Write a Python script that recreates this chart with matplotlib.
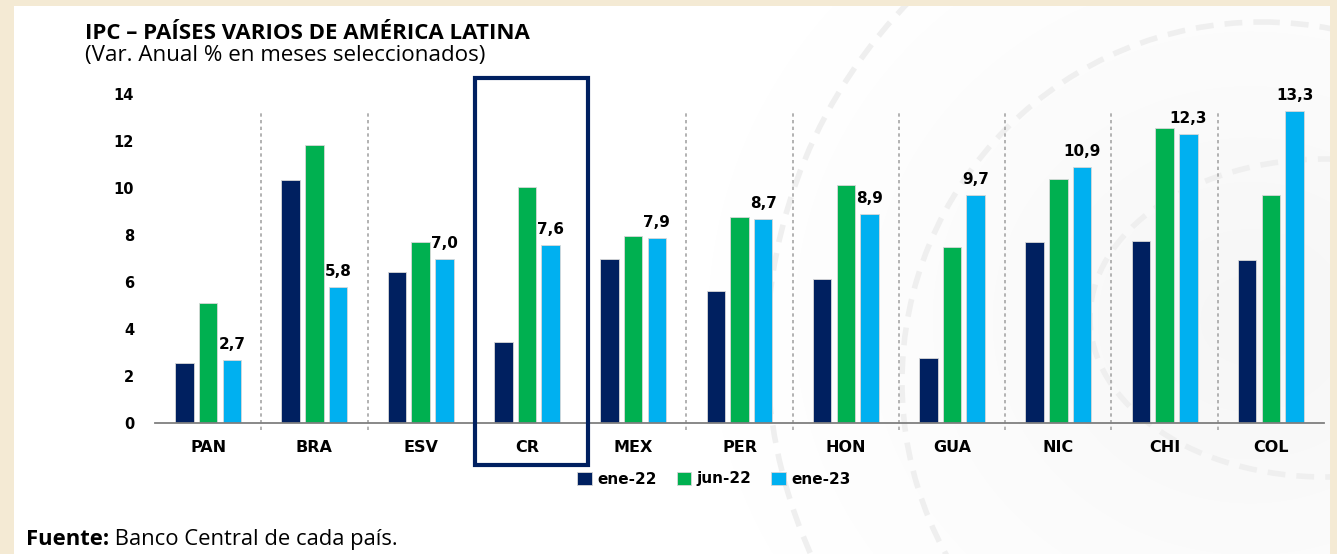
import matplotlib
matplotlib.use('Agg')
import matplotlib.pyplot as plt
import numpy as np
from matplotlib.patches import Rectangle, Circle, Ellipse

# ---------------- data ----------------
categories = ['PAN', 'BRA', 'ESV', 'CR', 'MEX', 'PER', 'HON', 'GUA', 'NIC', 'CHI', 'COL']
ene22 = [2.55, 10.35, 6.45, 3.45, 7.0, 5.65, 6.15, 2.8, 7.7, 7.75, 6.95]
jun22 = [5.1, 11.85, 7.7, 10.05, 7.95, 8.8, 10.15, 7.5, 10.4, 12.55, 9.7]
ene23 = [2.7, 5.8, 7.0, 7.6, 7.9, 8.7, 8.9, 9.7, 10.9, 12.3, 13.3]
series_labels = ['ene-22', 'jun-22', 'ene-23']
yticks = [0, 2, 4, 6, 8, 10, 12, 14]
highlight = 'CR'
title = 'IPC – PAÍSES VARIOS DE AMÉRICA LATINA'
subtitle = '(Var. Anual % en meses seleccionados)'
source_bold = 'Fuente:'
source_rest = ' Banco Central de cada país.'

colors = ['#002060', '#00B050', '#00B0F0']

W, H = 1337, 554
fig = plt.figure(figsize=(W / 100, H / 100), dpi=100)
fig.patch.set_facecolor('#F4EAD4')

# ---------------- background panel & decoration ----------------
bg = fig.add_axes([0, 0, 1, 1], zorder=0)
bg.set_xlim(0, W)
bg.set_ylim(H, 0)
bg.axis('off')
panel = Rectangle((14, 6), 1316, 548, facecolor='white', edgecolor='none')
bg.add_patch(panel)

yy, xx = np.mgrid[0:H, 0:W]
r = np.hypot(xx - 1250, (yy - 320) * 1.1)
shade = np.clip(1 - r / 560, 0, 1) ** 1.3
img = np.zeros((H, W, 4))
img[..., :3] = 0.90
img[..., 3] = shade * 0.35
im = bg.imshow(img, extent=(0, W, H, 0), interpolation='bilinear', zorder=1)
im.set_clip_path(panel)

dash = (0, (3.2, 2.0))
arc_kw = dict(fill=False, edgecolor='#EFEFEF', linewidth=4, linestyle=dash, zorder=2)
for patch in [Circle((1265, 350), 498, **arc_kw),
              Circle((1262, 382), 360, **arc_kw),
              Ellipse((1325, 318), 470, 318, **arc_kw)]:
    bg.add_patch(patch)
    patch.set_clip_path(panel)

# ---------------- main axes ----------------
ax = fig.add_axes([155 / W, (H - 423.3) / H, 1169 / W, 329 / H], zorder=2)
ax.patch.set_alpha(0)
x = np.arange(len(categories))
offsets = [-0.223, 0.0, 0.223]
bw = 0.174
containers = []
for vals, off, c, lab in zip([ene22, jun22, ene23], offsets, colors, series_labels):
    bc = ax.bar(x + off, vals, width=bw, color=c, edgecolor='#d8d8d8',
                linewidth=0.6, label=lab, zorder=3)
    containers.append(bc)

ax.set_xlim(-0.5, len(categories) - 0.5)
ax.set_ylim(0, 14)
for s in ['left', 'right', 'top']:
    ax.spines[s].set_visible(False)
ax.spines['bottom'].set_color('#7F7F7F')
ax.spines['bottom'].set_linewidth(1.3)
ax.spines['bottom'].set_zorder(4)

ax.set_yticks(yticks)
ax.set_yticklabels([str(v) for v in yticks], fontsize=10.5, fontweight='bold',
                   family='DejaVu Sans')
ax.set_xticks(x)
ax.set_xticklabels(categories, fontsize=11.5, fontweight='bold', family='DejaVu Sans')
ax.tick_params(axis='y', length=0, pad=15)
ax.tick_params(axis='x', length=0, pad=12)

# separators
hi = categories.index(highlight)
for i in range(len(categories) - 1):
    if i in (hi - 1, hi):
        continue
    ax.plot([i + 0.5, i + 0.5], [-0.3, 13.2], linestyle=(0, (2, 2)),
            color='#A6A6A6', linewidth=1.2, clip_on=False, zorder=1)

# highlight box
ax.add_patch(Rectangle((hi - 0.493, -1.77), 1.068, 14.69 + 1.77, fill=False,
                       edgecolor='#002060', linewidth=3, clip_on=False, zorder=5))

# value labels for last series
for xi, v in zip(x, ene23):
    ax.annotate(f'{v:.1f}'.replace('.', ','), xy=(xi + offsets[2], v),
                xytext=(0, 8), textcoords='offset points', ha='center',
                va='baseline', fontsize=11, fontweight='bold', family='DejaVu Sans',
                annotation_clip=False, zorder=6)

# legend
fig.legend(handles=containers, labels=series_labels, loc='center',
           bbox_to_anchor=(714 / W, (H - 479) / H), ncol=3, frameon=False,
           prop=dict(family='DejaVu Sans', weight='bold', size=11),
           handlelength=0.95, handleheight=0.9, handletextpad=0.35,
           columnspacing=1.3, borderpad=0, borderaxespad=0)

# ---------------- texts fitted to width ----------------
renderer = fig.canvas.get_renderer()


def fit(t, target):
    w = t.get_window_extent(renderer).width
    t.set_fontsize(t.get_fontsize() * target / w)


t1 = fig.text(85 / W, (H - 39) / H, title, fontsize=15, fontweight='bold',
              family='Open Sans', va='baseline', ha='left')
fit(t1, 445)
t2 = fig.text(85 / W, (H - 60.5) / H, subtitle, fontsize=14, family='Open Sans',
              va='baseline', ha='left')
fit(t2, 403)

f1 = fig.text(26 / W, (H - 545) / H, source_bold, fontsize=13, fontweight='bold',
              family='Open Sans', va='baseline', ha='left')
f2 = fig.text(0, (H - 545) / H, source_rest, fontsize=13, family='Open Sans',
              va='baseline', ha='left')
w1 = f1.get_window_extent(renderer).width
w2 = f2.get_window_extent(renderer).width
k = 369 / (w1 + w2)
f1.set_fontsize(13 * k)
f2.set_fontsize(13 * k)
w1 = f1.get_window_extent(renderer).width
f2.set_x((26 + w1) / W)

fig.savefig('out.png', dpi=100, facecolor=fig.get_facecolor())
